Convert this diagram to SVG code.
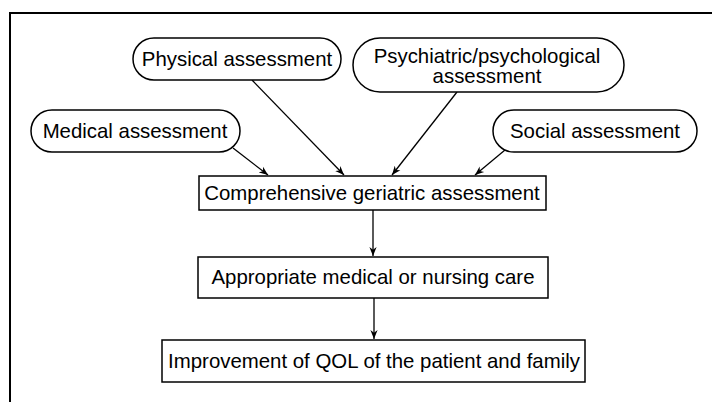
<svg xmlns="http://www.w3.org/2000/svg" width="712" height="402" viewBox="0 0 712 402">
<defs>
<style>
.pill{fill:#fff;stroke:#000;stroke-width:1.5}
.box{fill:#fff;stroke:#000;stroke-width:1.5}
.t{font-family:"Liberation Sans",Arial,sans-serif;font-size:20.4px;fill:#000;text-anchor:middle}
.c{stroke:#000;stroke-width:1.3;fill:none;marker-end:url(#ah)}
</style>
<marker id="ah" viewBox="0 0 10 10" refX="10" refY="5" markerWidth="9" markerHeight="9" markerUnits="userSpaceOnUse" orient="auto">
<path d="M0,1 L10,5 L0,9 L3,5 Z" fill="#000"/>
</marker>
</defs>
<rect width="712" height="402" fill="#fff"/>
<path d="M10,402 L10,13 L712,13" fill="none" stroke="#000" stroke-width="2"/>
<g id="connectors">
<line class="c" x1="233" y1="148" x2="268" y2="175"/>
<line class="c" x1="252" y1="80" x2="344" y2="175"/>
<line class="c" x1="457" y1="92" x2="392" y2="175"/>
<line class="c" x1="505" y1="150" x2="475" y2="175"/>
<line class="c" x1="373" y1="210" x2="373" y2="256"/>
<line class="c" x1="374" y1="298" x2="374" y2="339"/>
</g>
<g id="physical">
<rect class="pill" x="133" y="38" width="208" height="42" rx="21" ry="21"/>
<text class="t" x="237" y="66">Physical assessment</text>
</g>
<g id="psychiatric">
<rect class="pill" x="353" y="38" width="271" height="54" rx="27" ry="27"/>
<text class="t" x="487" y="63">Psychiatric/psychological</text>
<text class="t" x="487" y="83">assessment</text>
</g>
<g id="medical">
<rect class="pill" x="31" y="110" width="209" height="42" rx="21" ry="21"/>
<text class="t" x="135" y="138">Medical assessment</text>
</g>
<g id="social">
<rect class="pill" x="493" y="110" width="204" height="42" rx="21" ry="21"/>
<text class="t" x="595" y="138">Social assessment</text>
</g>
<g id="comprehensive">
<rect class="box" x="199" y="176" width="347" height="34"/>
<text class="t" x="372" y="200">Comprehensive geriatric assessment</text>
</g>
<g id="appropriate">
<rect class="box" x="198" y="257" width="350" height="41"/>
<text class="t" x="373" y="284">Appropriate medical or nursing care</text>
</g>
<g id="improvement">
<rect class="box" x="162" y="340" width="423" height="42"/>
<text class="t" x="374" y="368">Improvement of QOL of the patient and family</text>
</g>
</svg>
